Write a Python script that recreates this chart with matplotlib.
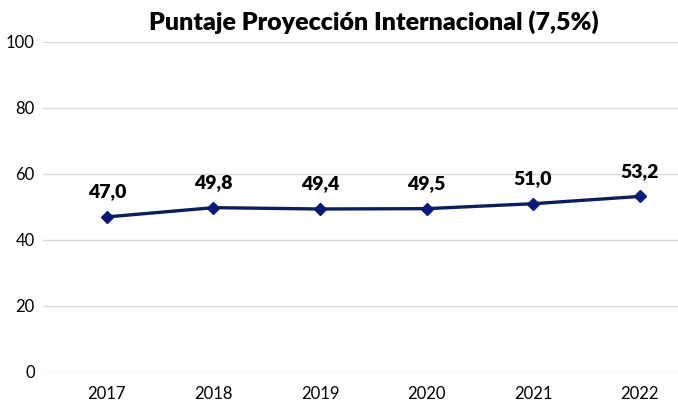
import matplotlib
matplotlib.use("Agg")
import matplotlib.pyplot as plt

years = ["2017", "2018", "2019", "2020", "2021", "2022"]
values = [47.0, 49.8, 49.4, 49.5, 51.0, 53.2]
yticks = [0, 20, 40, 60, 80, 100]
title = "Puntaje Proyección Internacional (7,5%)"

plt.rcParams['font.family'] = ['Lato', 'DejaVu Sans']

fig = plt.figure(figsize=(6.78, 4.08), dpi=100)
ax = fig.add_axes([43/678, 1-372/408, 1-43/678, (372-42)/408])

x = list(range(len(years)))
ax.plot(x, values, color="#0b1f5c", lw=2.4, marker="D", markersize=6.5,
        markerfacecolor="#0a1a78", markeredgecolor="#0a1a78", zorder=3)
for xi, v in zip(x, values):
    ax.annotate(f"{v:.1f}".replace(".", ","), (xi, v), xytext=(0, 12),
                textcoords="offset points", ha="center", va="bottom",
                fontsize=14, fontweight="heavy", color="#000000")

ax.set_ylim(0, 100)
ax.set_xlim(-0.6, 5.36)
ax.set_yticks(yticks)
ax.set_xticks(x)
ax.set_xticklabels(years)
ax.tick_params(axis="both", length=0, labelsize=12, colors="#000000")
ax.tick_params(axis="x", pad=10)
ax.tick_params(axis="y", pad=6)
ax.grid(axis="y", color="#d9d9d9", lw=1)
ax.set_axisbelow(True)
for s in ax.spines.values():
    s.set_visible(False)

fig.text(374/678, 1-22/408, title, ha="center", va="center",
         fontsize=18, fontweight="heavy")

fig.savefig("out.png", dpi=100)
